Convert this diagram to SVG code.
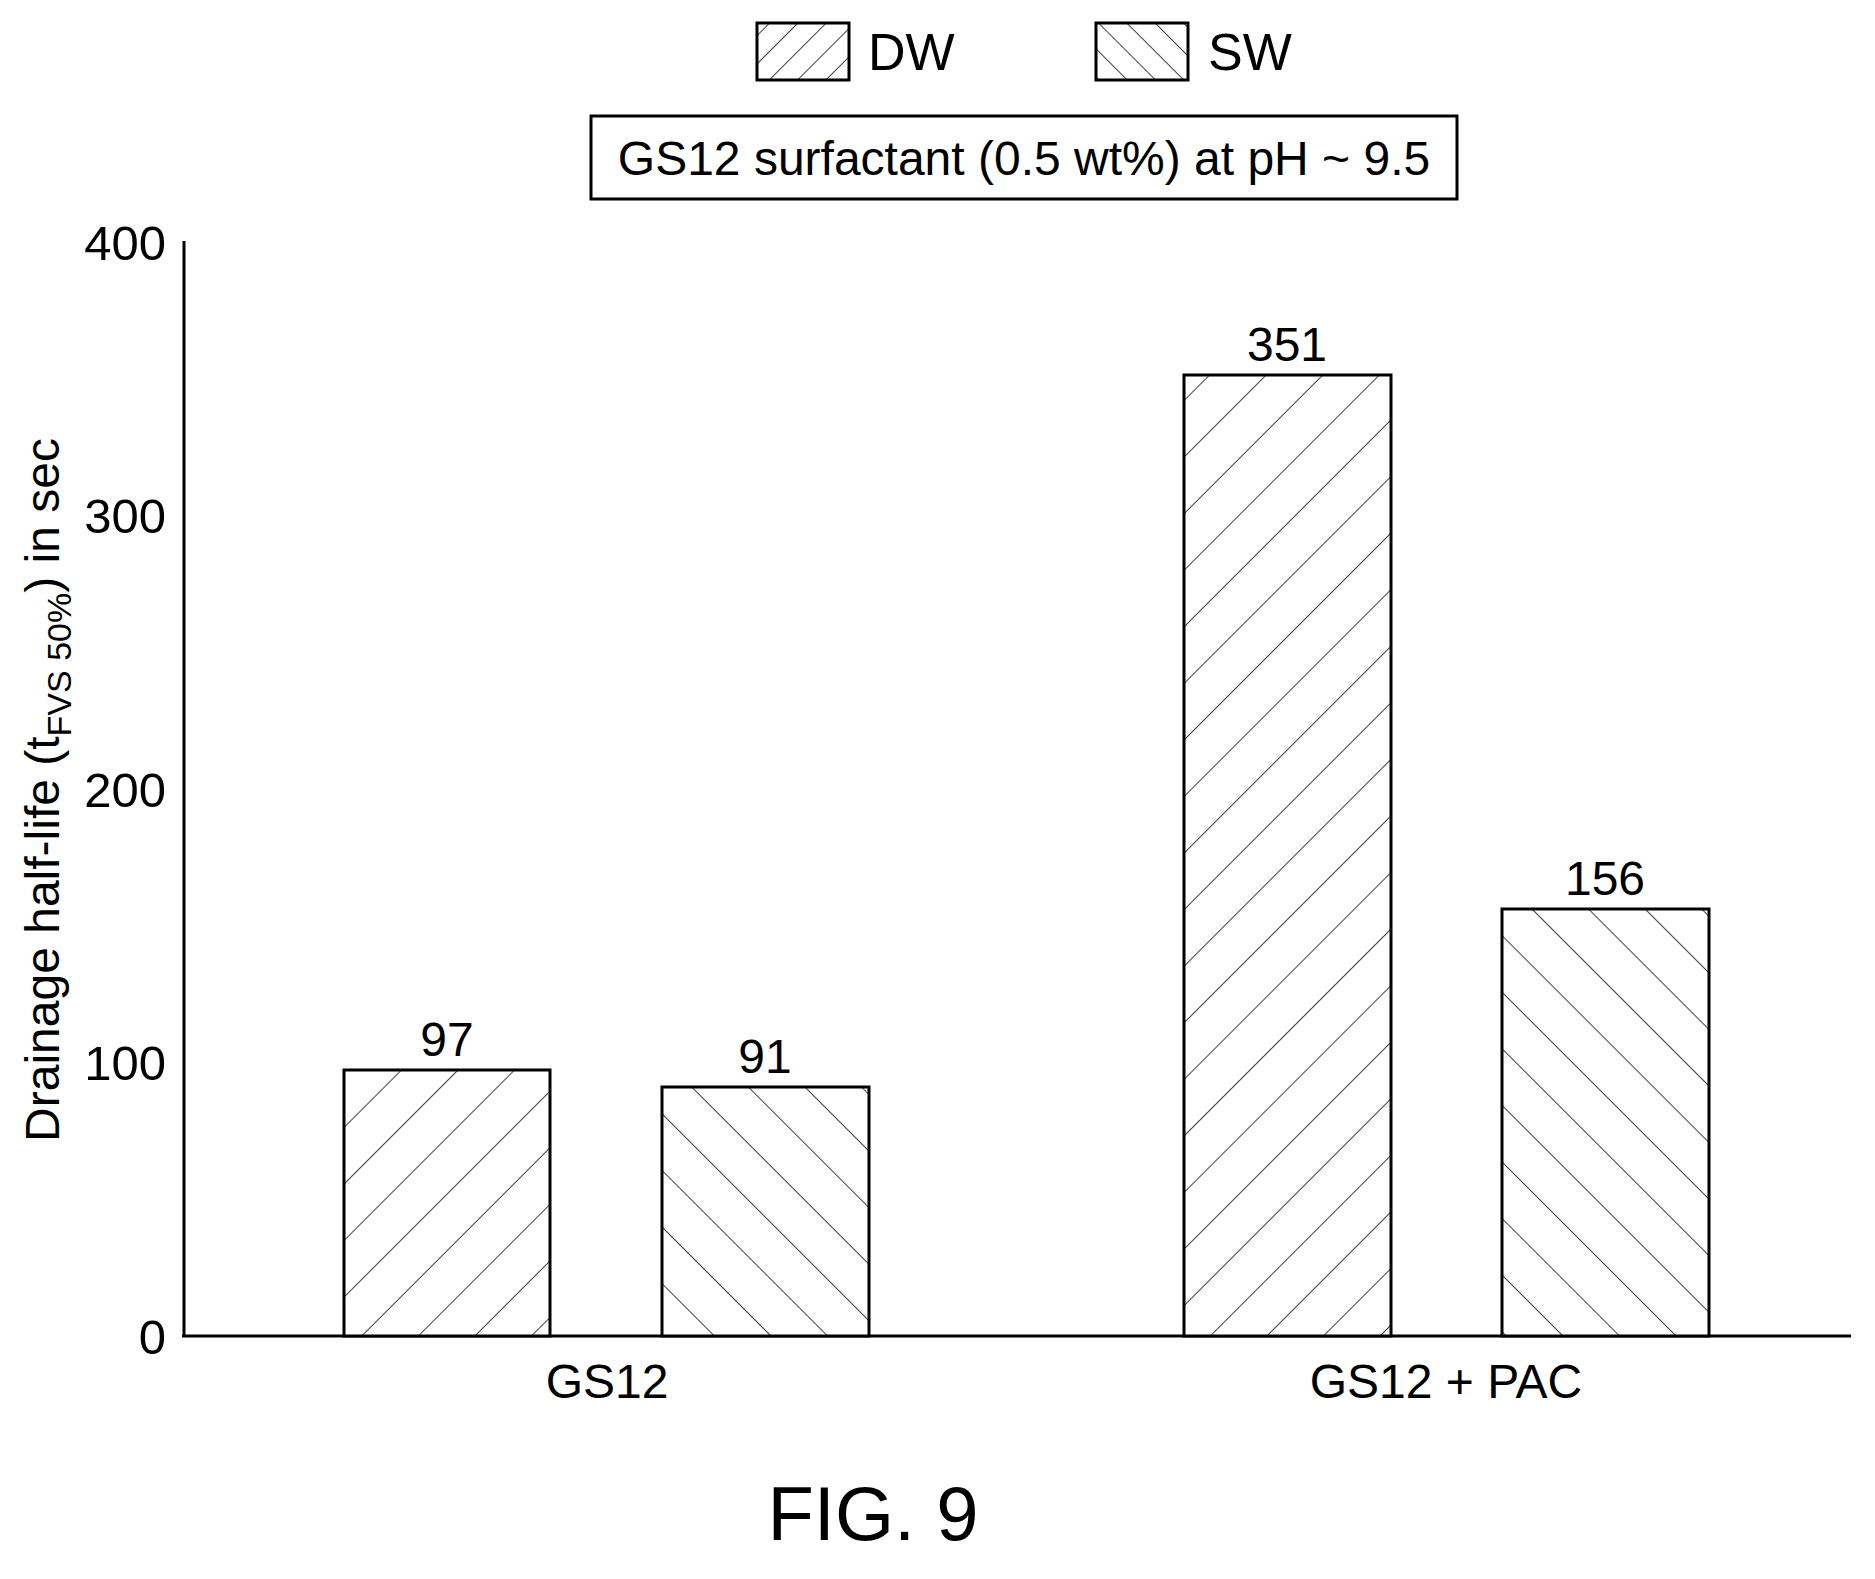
<svg xmlns="http://www.w3.org/2000/svg" width="1875" height="1579" viewBox="0 0 1875 1579">
<style>
text{font-family:"Liberation Sans",Arial,sans-serif;fill:#000}
.bar{stroke:#000;stroke-width:3}
.tk{font-size:49px;text-anchor:end}
.v{font-size:48px;text-anchor:middle}
</style>
<defs>
<pattern id="dw" patternUnits="userSpaceOnUse" width="40" height="40" patternTransform="rotate(45)">
<rect width="40" height="40" fill="#fff"/><line x1="0" y1="0" x2="0" y2="40" stroke="#000" stroke-width="1.5"/></pattern>
<pattern id="sw" patternUnits="userSpaceOnUse" width="40" height="40" patternTransform="rotate(-45)">
<rect width="40" height="40" fill="#fff"/><line x1="0" y1="0" x2="0" y2="40" stroke="#000" stroke-width="1.5"/></pattern>
<pattern id="dws" patternUnits="userSpaceOnUse" width="20" height="20" patternTransform="rotate(45)">
<rect width="20" height="20" fill="#fff"/><line x1="0" y1="0" x2="0" y2="20" stroke="#000" stroke-width="1.5"/></pattern>
<pattern id="sws" patternUnits="userSpaceOnUse" width="20" height="20" patternTransform="rotate(-45)">
<rect width="20" height="20" fill="#fff"/><line x1="0" y1="0" x2="0" y2="20" stroke="#000" stroke-width="1.5"/></pattern>
</defs>
<rect width="1875" height="1579" fill="#fff"/>
<g id="legend">
<rect class="bar" x="757" y="23" width="92" height="57" fill="url(#dws)"/>
<text x="868" y="70" font-size="52">DW</text>
<rect class="bar" x="1096" y="23" width="92" height="57" fill="url(#sws)"/>
<text x="1208" y="70" font-size="52">SW</text>
</g>
<g id="title">
<rect x="591" y="116" width="866" height="83" fill="#fff" stroke="#000" stroke-width="3"/>
<text x="1024" y="175" font-size="48" text-anchor="middle">GS12 surfactant (0.5 wt%) at pH ~ 9.5</text>
</g>
<g id="axes">
<line x1="184" y1="241" x2="184" y2="1337" stroke="#000" stroke-width="3"/>
<line x1="182" y1="1336" x2="1851" y2="1336" stroke="#000" stroke-width="3"/>
<text class="tk" x="166" y="1354">0</text>
<text class="tk" x="166" y="1080">100</text>
<text class="tk" x="166" y="807">200</text>
<text class="tk" x="166" y="533">300</text>
<text class="tk" x="166" y="260">400</text>
<text transform="translate(59,790) rotate(-90)" font-size="48" text-anchor="middle">Drainage half-life (t<tspan font-size="34" dy="12">FVS 50%</tspan><tspan dy="-12">) in sec</tspan></text>
<text class="v" x="607" y="1398">GS12</text>
<text class="v" x="1446" y="1398">GS12 + PAC</text>
</g>
<g id="bars">
<rect class="bar" x="344" y="1070" width="206" height="266" fill="url(#dw)"/>
<text class="v" x="447" y="1056">97</text>
<rect class="bar" x="662" y="1087" width="207" height="249" fill="url(#sw)"/>
<text class="v" x="765" y="1073">91</text>
<rect class="bar" x="1184" y="375" width="207" height="961" fill="url(#dw)"/>
<text class="v" x="1287" y="361">351</text>
<rect class="bar" x="1502" y="909" width="207" height="427" fill="url(#sw)"/>
<text class="v" x="1605" y="895">156</text>
</g>
<text x="873" y="1540" font-size="76" text-anchor="middle">FIG. 9</text>
</svg>
